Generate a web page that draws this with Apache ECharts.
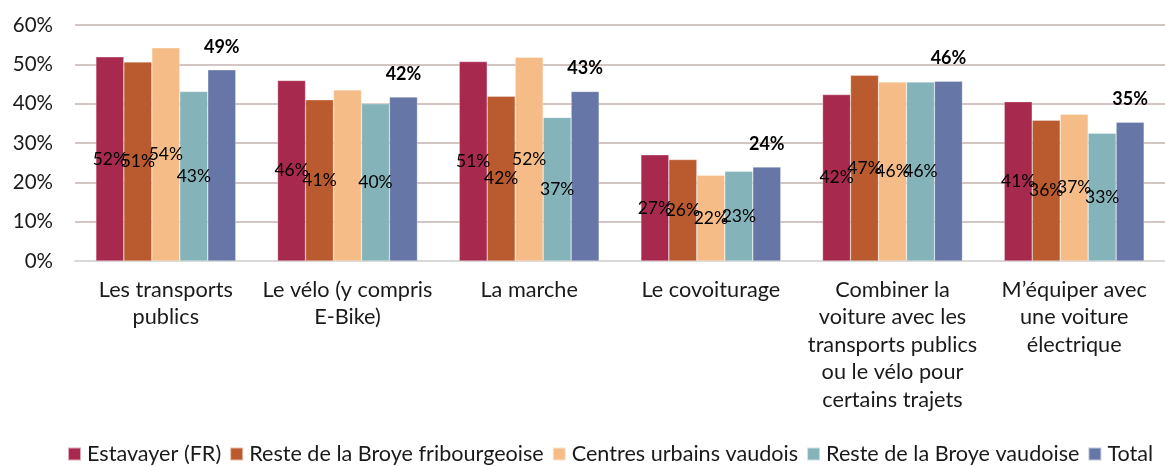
<!DOCTYPE html>
<html>
<head>
<meta charset="utf-8">
<script src="https://cdn.jsdelivr.net/npm/echarts@6/dist/echarts.min.js"></script>
<style>
  html, body { margin: 0; padding: 0; background: #fff; }
  #chart { width: 1165px; height: 466px; }
</style>
</head>
<body>
<div id="chart"></div>
<script>
// Mobility options by region (share of respondents, %)
const categories = [
  'Les transports\npublics',
  'Le vélo (y compris\nE-Bike)',
  'La marche',
  'Le covoiturage',
  'Combiner la\nvoiture avec les\ntransports publics\nou le vélo pour\ncertains trajets',
  'M’équiper avec\nune voiture\nélectrique'
];
const seriesNames = ['Estavayer (FR)', 'Reste de la Broye fribourgeoise', 'Centres urbains vaudois', 'Reste de la Broye vaudoise', 'Total'];
const estavayer = [51.9, 45.9, 50.7, 27.0, 42.3, 40.5];
const resteFribourgeoise = [50.6, 41.0, 41.9, 25.8, 47.2, 35.8];
const centresUrbains = [54.2, 43.5, 51.8, 21.8, 45.5, 37.3];
const resteVaudoise = [43.1, 40.0, 36.5, 22.8, 45.5, 32.5];
const total = [48.6, 41.7, 43.1, 23.9, 45.7, 35.3];
// value labels that are not shown (series index, category index)
const hiddenLabels = [[2, 1]];
const yTicks = { min: 0, max: 60, interval: 10 };

const colors = ['#A8294E', '#BA5A2F', '#F5BC87', '#84B4B9', '#6676A6'];
const values = [estavayer, resteFribourgeoise, centresUrbains, resteVaudoise, total];
const FONT = 'Lato';

const series = values.map((vals, si) => {
  const isTotal = si === values.length - 1;
  return {
    name: seriesNames[si],
    type: 'bar',
    barGap: '0%',
    barCategoryGap: '23%',
    itemStyle: { color: colors[si], borderColor: 'rgba(255,255,255,0.6)', borderWidth: 0.5 },
    data: vals.map((v, ci) => {
      const hide = hiddenLabels.some(h => h[0] === si && h[1] === ci);
      return hide ? { value: v, label: { show: false } } : v;
    }),
    label: {
      show: true,
      position: isTotal ? 'top' : 'inside',
      distance: isTotal ? 14 : 0,
      formatter: p => Math.round(p.value) + '%',
      color: '#000',
      fontFamily: FONT,
      fontSize: isTotal ? 18 : 17.5,
      fontWeight: isTotal ? 'bold' : 'normal'
    },
    emphasis: { disabled: true }
  };
});

const chart = echarts.init(document.getElementById('chart'), null, { renderer: 'canvas' });
chart.setOption({
  animation: false,
  color: colors,
  grid: { left: 75, top: 25, height: 236, width: 1105, containLabel: false },
  legend: {
    data: seriesNames,
    left: 62,
    top: 438,
    itemWidth: 13,
    itemHeight: 13,
    itemGap: 8,
    icon: 'rect',
    textStyle: { fontFamily: FONT, fontSize: 21.6, color: '#1a1a1a', padding: [0, 0, 0, 1] }
  },
  xAxis: {
    type: 'category',
    data: categories,
    axisTick: { show: false },
    axisLine: { lineStyle: { color: '#d9d9d9', width: 2 } },
    axisLabel: {
      interval: 0,
      margin: 15,
      fontFamily: FONT,
      fontSize: 21.7,
      lineHeight: 27.5,
      color: '#1a1a1a'
    }
  },
  yAxis: {
    type: 'value',
    min: yTicks.min,
    max: yTicks.max,
    interval: yTicks.interval,
    axisLine: { show: false },
    axisTick: { show: false },
    splitLine: { lineStyle: { color: '#d3c6c2', width: 2 } },
    axisLabel: {
      formatter: '{value}%',
      margin: 22,
      fontFamily: FONT,
      fontSize: 20.5,
      color: '#1a1a1a'
    }
  },
  series: series
});
</script>
</body>
</html>
